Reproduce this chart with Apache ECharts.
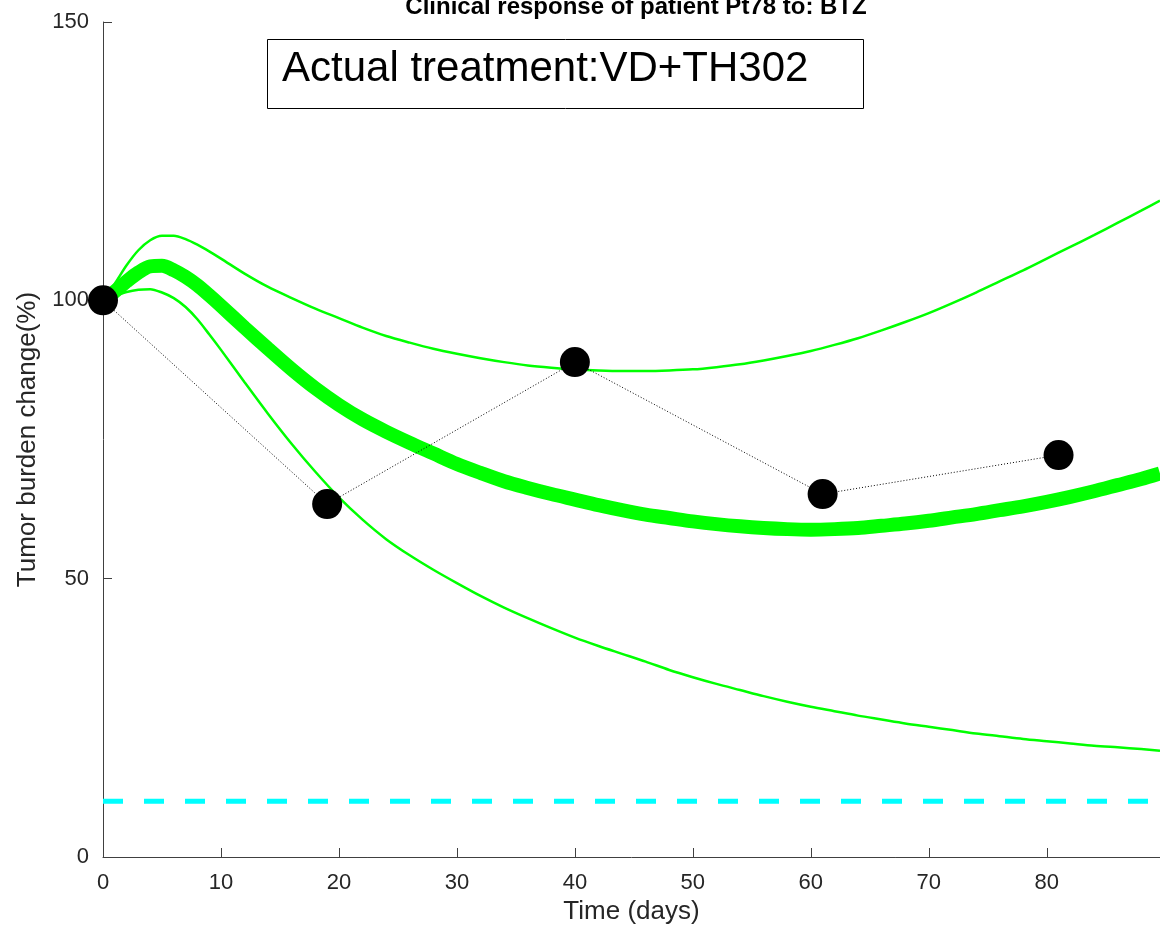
<!DOCTYPE html>
<html>
<head>
<meta charset="utf-8">
<script src="https://cdn.jsdelivr.net/npm/echarts@6/dist/echarts.min.js"></script>
<style>
html,body{margin:0;padding:0;background:#fff;}
#chart{width:1160px;height:934px;}
</style>
</head>
<body>
<div id="chart"></div>
<script>
// ---- data ----
const days = [0,1,2,3,4,5,6,7,8,9,10,12,14,16,18,20,22,24,26,28,30,32,34,36,38,40,42,44,46,48,50,52,54,56,58,60,62,64,66,68,70,72,74,76,78,80,82,84,86,88,89.6];
const medianCurve = [100,101.6,103.4,105,106.1,106.2,105.4,104.2,102.7,100.9,99,95.1,91.3,87.6,84.2,81.2,78.6,76.4,74.4,72.5,70.6,69.0,67.5,66.3,65.2,64.2,63.2,62.3,61.5,60.9,60.3,59.8,59.4,59.1,58.9,58.8,58.9,59.1,59.5,59.9,60.4,61.0,61.6,62.3,63.0,63.8,64.7,65.7,66.8,67.9,68.9];
const upperCurve = [100,103,106.3,109,110.8,111.6,111.6,111,110,108.8,107.5,104.8,102.4,100.4,98.5,96.8,95.1,93.6,92.4,91.3,90.4,89.6,88.9,88.3,87.9,87.6,87.4,87.3,87.3,87.4,87.6,88.0,88.5,89.2,90.0,90.9,92.0,93.2,94.6,96.1,97.7,99.5,101.4,103.4,105.4,107.5,109.6,111.7,113.9,116.1,117.9];
const lowerCurve = [100,100.8,101.5,101.9,102,101.4,100.4,98.8,96.6,93.9,91.1,85.3,79.6,74.2,69.2,64.6,60.6,57.1,54.2,51.6,49.2,46.9,44.8,42.9,41.1,39.4,37.9,36.5,35.1,33.6,32.3,31.1,30.0,28.9,27.9,27.0,26.2,25.4,24.7,24.0,23.4,22.8,22.2,21.7,21.2,20.8,20.4,20.0,19.7,19.4,19.1];
const obsDays = [0,19,40,61,81];
const obsValues = [100,63.4,88.9,65.2,72.2];
const thresholdDays = [0,89.6];
const thresholdValues = [10,10];
const titleText = 'Clinical response of patient Pt78 to: BTZ';
const legendText = 'Actual treatment:VD+TH302';
const xName = 'Time (days)';
const yName = 'Tumor burden change(%)';

const zip = (xs, ys) => xs.map((x, i) => [x, ys[i]]);
const FONT = 'Liberation Sans, Arial, Helvetica, sans-serif';

const chart = echarts.init(document.getElementById('chart'), null, {renderer: 'canvas'});
chart.setOption({
  animation: false,
  backgroundColor: '#ffffff',
  title: {
    text: titleText,
    left: 631, textAlign: 'center',
    top: -10,
    textStyle: {fontFamily: FONT, fontWeight: 'bold', fontSize: 24, color: '#000'}
  },
  grid: {left: 103, right: 0, top: 22, bottom: 77, containLabel: false},
  xAxis: {
    type: 'value', min: 0, max: 89.6, interval: 10,
    name: xName, nameLocation: 'middle', nameGap: 40,
    nameTextStyle: {fontFamily: FONT, fontSize: 26, color: '#262626'},
    axisLine: {show: true, lineStyle: {color: '#404040', width: 1}},
    axisTick: {show: true, inside: true, length: 9, lineStyle: {color: '#404040'}},
    axisLabel: {fontFamily: FONT, fontSize: 22, color: '#262626', margin: 15, showMaxLabel: false},
    splitLine: {show: false}
  },
  yAxis: {
    type: 'value', min: 0, max: 150, interval: 50,
    name: yName, nameLocation: 'middle', nameGap: 62, nameRotate: 90,
    nameTextStyle: {fontFamily: FONT, fontSize: 26, color: '#262626'},
    axisLine: {show: true, lineStyle: {color: '#404040', width: 1}},
    axisTick: {show: true, inside: true, length: 9, lineStyle: {color: '#404040'}},
    axisLabel: {fontFamily: FONT, fontSize: 22, color: '#262626', margin: 14},
    splitLine: {show: false}
  },
  graphic: [
    {type: 'rect', shape: {x: 267.5, y: 39.5, width: 596, height: 69},
     style: {fill: '#fff', stroke: '#000', lineWidth: 1}, z: 100},
    {type: 'text', x: 282, y: 48, z: 101,
     style: {text: legendText, font: '42px ' + FONT, fill: '#000', textVerticalAlign: 'top'}}
  ],
  series: [
    {type: 'line', data: zip(thresholdDays, thresholdValues), showSymbol: false, symbol: 'none',
     lineStyle: {color: '#00ffff', width: 5, type: [20, 21]}, z: 1},
    {type: 'line', data: zip(days, upperCurve), smooth: 0.3, symbol: 'none',
     lineStyle: {color: '#00ff00', width: 2.5}, z: 2},
    {type: 'line', data: zip(days, lowerCurve), smooth: 0.3, symbol: 'none',
     lineStyle: {color: '#00ff00', width: 2.5}, z: 2},
    {type: 'line', data: zip(days, medianCurve), smooth: 0.3, symbol: 'none',
     lineStyle: {color: '#00ff00', width: 14}, z: 3},
    {type: 'line', data: zip(obsDays, obsValues), symbol: 'circle', symbolSize: 30,
     itemStyle: {color: '#000'}, lineStyle: {color: '#000', width: 1, type: [1, 2]}, z: 4}
  ]
});
</script>
</body>
</html>
